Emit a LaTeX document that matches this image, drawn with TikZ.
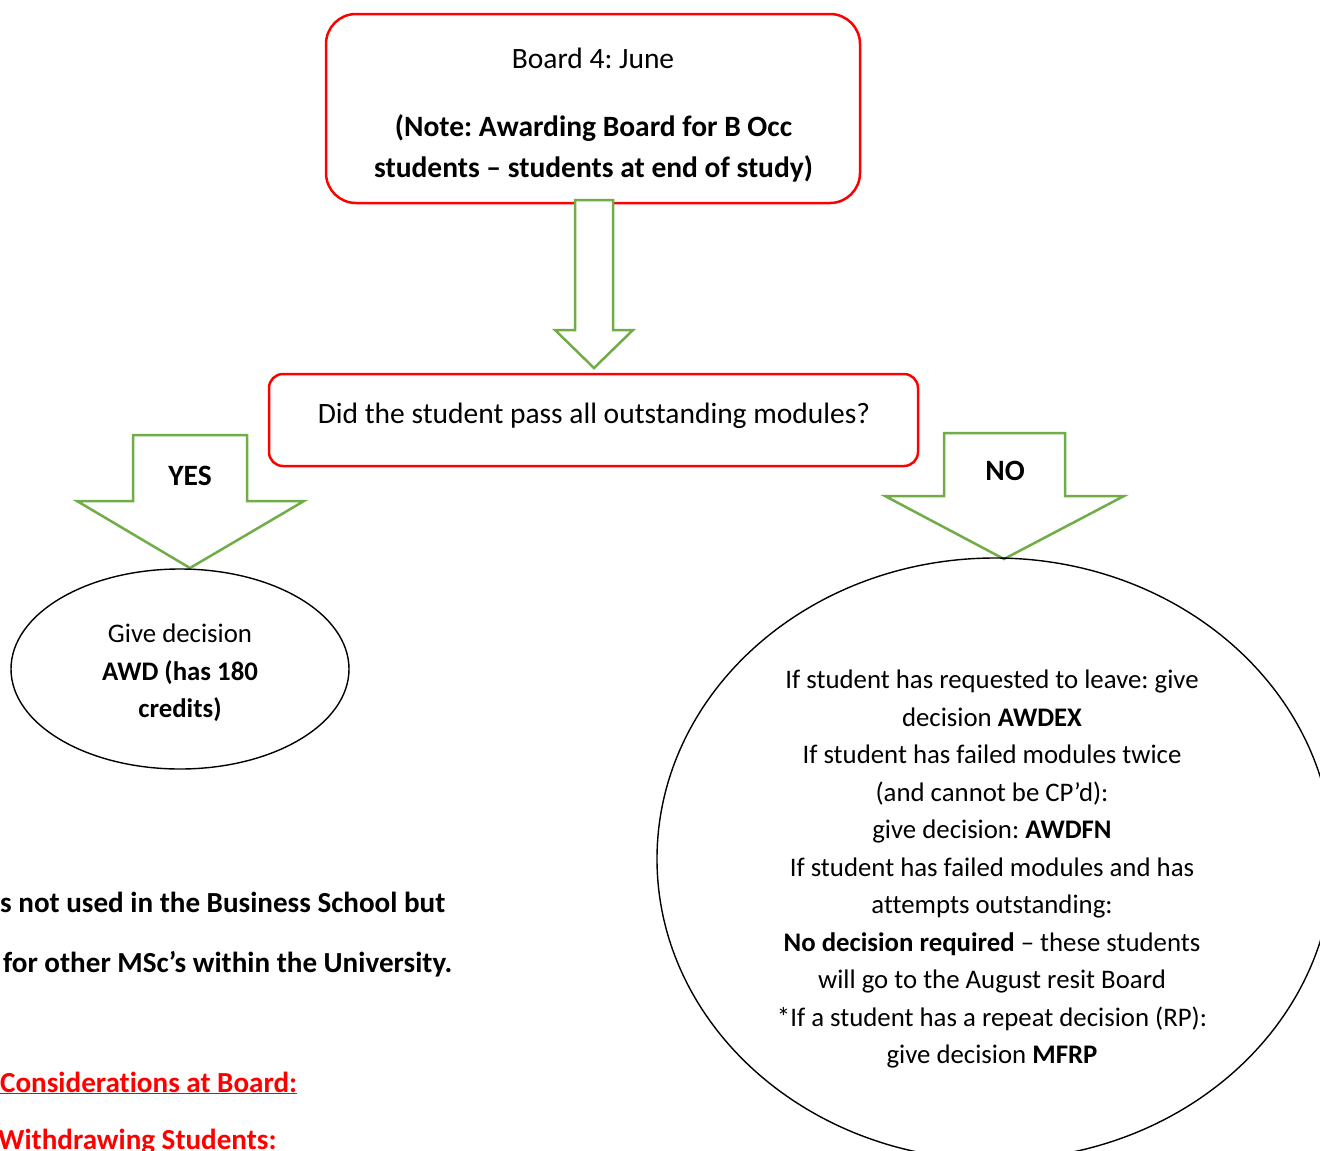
\documentclass[tikz,border=0pt]{standalone}
\usepackage{fontspec}
\setmainfont{Carlito}[Ligatures=NoCommon]
\usetikzlibrary{shapes.geometric}
\definecolor{boxred}{HTML}{FF0000}
\definecolor{arrowgreen}{HTML}{70AD47}
\frenchspacing
\tikzset{
  redbox/.style={draw=boxred, line width=2.5pt, fill=white},
  blockarrow/.style={draw=arrowgreen, line width=2.5pt, fill=white, line join=miter},
  outcome/.style={ellipse, draw=black, line width=1.4pt, inner sep=0pt},
  txt/.style={inner sep=0pt, font=\fontsize{29.5}{37.5}\selectfont},
  smalltxt/.style={inner sep=0pt, font=\fontsize{26.8}{37.5}\selectfont},
  boldtxt/.style={txt, font=\fontsize{29.5}{37.5}\selectfont\bfseries},
  notetxt/.style={inner sep=0pt, font=\fontsize{29.1}{37.5}\selectfont\bfseries},
  redtxt/.style={notetxt, text=boxred},
}
\begin{document}
\begin{tikzpicture}[x=1pt,y=-1pt]
\useasboundingbox (0,0) rectangle (1320,1151);
\clip (0,0) rectangle (1320,1151);

% top box: board
\node[redbox, rounded corners=30pt, minimum width=534pt, minimum height=189pt] (board) at (593,108.5) {};
\node[txt, anchor=base] (boardtitle) at (593,68) {Board 4: June};
\node[boldtxt, anchor=base] (boardnote1) at (593.5,136) {(Note: Awarding Board for B Occ};
\node[boldtxt, anchor=base] (boardnote2) at (593.5,177) {students -- students at end of study)};

% question box
\node[redbox, rounded corners=14pt, minimum width=649pt, minimum height=92pt] (question) at (593.5,420) {};
\node[txt, anchor=base] (questiontext) at (594,423) {Did the student pass all outstanding modules?};

% block arrow from board to question
\draw[blockarrow] (575,200) -- (613,200) -- (613,330) -- (633,330) -- (594,368)
  -- (555,330) -- (575,330) -- cycle;

% YES arrow
\draw[blockarrow] (133,435) -- (247,435) -- (247,501) -- (304,501) -- (190,568)
  -- (77,501) -- (133,501) -- cycle;
\node[boldtxt, anchor=base] (yes) at (190,485) {YES};

% NO arrow
\draw[blockarrow] (944,433) -- (1065,433) -- (1065,496) -- (1124,496) -- (1004,559)
  -- (885,496) -- (944,496) -- cycle;
\node[boldtxt, anchor=base] (no) at (1005,480) {NO};

% outcome: pass
\node[outcome, minimum width=338pt, minimum height=200pt] (pass) at (180,669) {};
\node[smalltxt, align=center] (passtext) at (180,673) {Give decision\\\textbf{AWD (has 180}\\\textbf{credits)}};

% outcome: fail
\node[outcome, minimum width=676pt, minimum height=602pt] (fail) at (995,859) {};
\node[smalltxt, align=center] (failtext) at (992,869) {If student has requested to leave: give\\
decision \textbf{AWDEX}\\
If student has failed modules twice\\
(and cannot be CP’d):\\
give decision: \textbf{AWDFN}\\
If student has failed modules and has\\
attempts outstanding:\\
\textbf{No decision required} -- these students\\
will go to the August resit Board\\
*If a student has a repeat decision (RP):\\
give decision \textbf{MFRP}};

% notes below the chart
\node[notetxt, anchor=base west] (note1) at (0,912) {s not used in the Business School but};
\node[notetxt, anchor=base west] (note2) at (3,972) {for other MSc’s within the University.};
\node[redtxt, anchor=base west] (considerations) at (0,1092) {\underline{Considerations at Board:}};
\node[redtxt, anchor=base west] (withdrawing) at (-2,1149) {\underline{Withdrawing Students:}};
\end{tikzpicture}
\end{document}
